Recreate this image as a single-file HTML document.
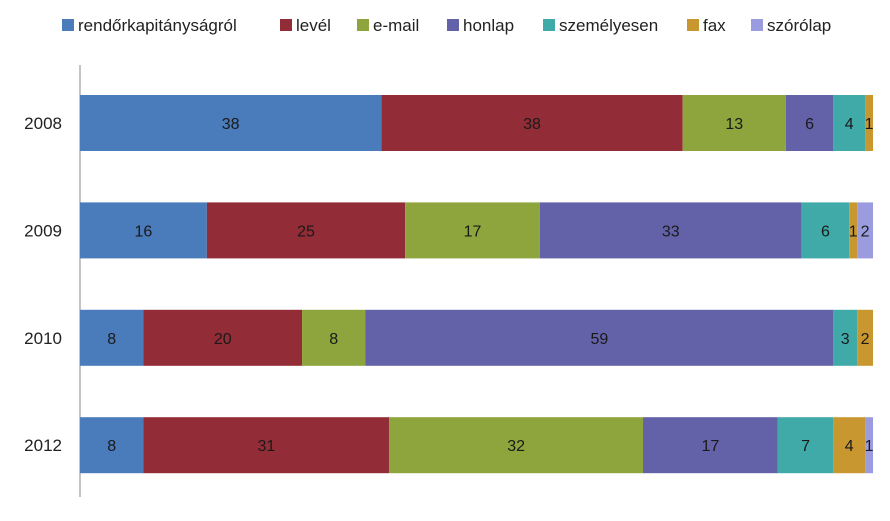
<!DOCTYPE html>
<html><head><meta charset="utf-8"><style>
body{margin:0;background:#fff;}
svg{display:block;font-family:"Liberation Sans",sans-serif;}
</style></head><body>
<svg id="chart" width="890" height="521"></svg>
<script>
const categories=["2008","2009","2010","2012"];
const seriesNames=["rendőrkapitányságról","levél","e-mail","honlap","személyesen","fax","szórólap"];
const s1=[38,16,8,8];
const s2=[38,25,20,31];
const s3=[13,17,8,32];
const s4=[6,33,59,17];
const s5=[4,6,3,7];
const s6=[1,1,2,4];
const s7=[0,2,0,1];
const series=[s1,s2,s3,s4,s5,s6,s7];
const colors=["#4a7bbb","#922c37","#8ea43c","#6361a8","#3faaa8","#c9972f","#9b9ce0"];
const NS="http://www.w3.org/2000/svg";
const svg=document.getElementById('chart');
const x0=80,pw=793;
function xs(v){return v/100*pw;}
function ys(i){return 95+i*107.4;}
const bh=56;
function mk(t,a){const e=document.createElementNS(NS,t);for(const k in a)e.setAttribute(k,a[k]);svg.appendChild(e);return e;}
// legend
const legX=[62,280,357,447,543,687,751];
seriesNames.forEach((n,i)=>{
 const r=mk('rect',{x:legX[i],y:19,width:12,height:12,fill:colors[i]});
 
 
 const t=mk('text',{x:legX[i]+16,y:31,'font-size':17,fill:'#222'});
 t.textContent=n;
 
 
});
// axis
const ax=mk('line',{x1:x0,y1:65,x2:x0,y2:497,stroke:'#888','stroke-width':1});


categories.forEach((c,ci)=>{
 const y=ys(ci);
 const t=mk('text',{x:62,y:y+bh/2+6,'font-size':17,fill:'#222','text-anchor':'end'});
 t.textContent=c;
 
 
 let acc=0;
 series.forEach((s,si)=>{
  const v=s[ci]; if(!v){return;}
  const x=x0+xs(acc), w=xs(v);
  const r=mk('rect',{x:x,y:y,width:w,height:bh,fill:colors[si]});
  
  
  const l=mk('text',{x:x+w/2,y:y+bh/2+6,'font-size':16,fill:'#1a1a1a','text-anchor':'middle'});
  l.textContent=v;
  
  
  acc+=v;
 });
});
</script>
</body></html>
